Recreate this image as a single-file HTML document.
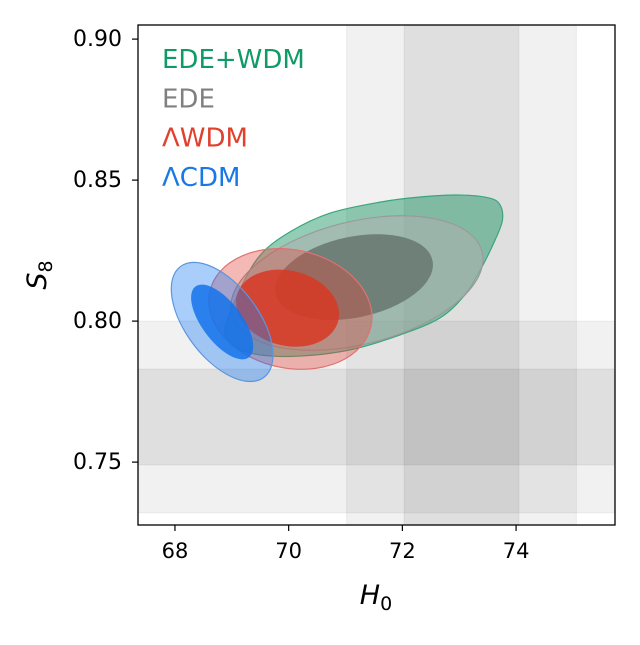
<!DOCTYPE html>
<html><head><meta charset="utf-8"><style>
body{margin:0;background:#fff}
svg text{font-family:"DejaVu Sans","Liberation Sans",sans-serif}
</style></head><body>
<svg id="chart" width="640" height="640" viewBox="0 0 640 640" xmlns="http://www.w3.org/2000/svg">
<g id="bands"></g><g id="contours"></g><g id="axes"></g><g id="legend"></g>
</svg>
<script>
const xTicks=[68,70,72,74];
const yTicks=[0.75,0.80,0.85,0.90];
const yTickLabels=["0.75","0.80","0.85","0.90"];
const h0Band=[73.04,1.01];
const s8Band=[0.766,0.017];
const legendLabels=["EDE+WDM","EDE","\u039bWDM","\u039bCDM"];
// ellipses: [centerH0, centerS8, semiMajor(H0 units), semiMinor(H0 units), angleDeg]
const lcdmOuter=[68.83,0.7997,1.22,0.64,53];
const lcdmInner=[68.83,0.7997,0.78,0.35,53];
const lwdmOuter=[70.03,0.8043,1.45,1.04,12];
const lwdmInner=[69.98,0.8046,0.92,0.66,14];
const edeOuter=[71.2,0.8135,2.27,1.08,-14];
const edeInner=[71.15,0.8156,1.40,0.70,-12];
const edewdmH0=[68.88,69.14,69.50,70.02,70.73,71.61,72.31,73.02,73.54,73.72,73.76,73.63,73.37,73.10,72.66,71.96,71.08,70.20,69.50,69.06];
const edewdmS8=[0.7968,0.8110,0.8234,0.8316,0.8383,0.8422,0.8440,0.8447,0.8436,0.8411,0.8358,0.8287,0.8181,0.8093,0.8011,0.7951,0.7898,0.7876,0.7880,0.7908];

const L=138,R=615,T=25,B=525,xmin=67.35,xmax=75.74,ymin=0.7277,ymax=0.905;
const X=v=>L+(v-xmin)/(xmax-xmin)*(R-L);
const Y=v=>B-(v-ymin)/(ymax-ymin)*(B-T);
const pxPerH=(R-L)/(xmax-xmin);
const NS="http://www.w3.org/2000/svg";
function mk(tag,attrs,parent){const e=document.createElementNS(NS,tag);for(const k in attrs)e.setAttribute(k,attrs[k]);parent.appendChild(e);return e;}
const bands=document.getElementById('bands'),cont=document.getElementById('contours'),axes=document.getElementById('axes'),leg=document.getElementById('legend');

[[2,'rgba(0,0,0,0.055)'],[1,'rgba(0,0,0,0.075)']].forEach(([k,c])=>{
  const x1=X(h0Band[0]-k*h0Band[1]),x2=X(h0Band[0]+k*h0Band[1]);
  const r=mk('rect',{x:x1,y:T,width:x2-x1,height:B-T,fill:c,stroke:'rgba(0,0,0,0.06)'},bands);
  
  
  const y1=Y(s8Band[0]+k*s8Band[1]),y2=Y(s8Band[0]-k*s8Band[1]);
  const r2=mk('rect',{x:L,y:y1,width:R-L,height:y2-y1,fill:c,stroke:'rgba(0,0,0,0.06)'},bands);
  
  
});

function ell(p,fill,stroke,name){
  const e=mk('ellipse',{cx:X(p[0]),cy:Y(p[1]),rx:p[2]*pxPerH,ry:p[3]*pxPerH,fill:fill,stroke:stroke,'stroke-width':1.2,transform:`rotate(${p[4]} ${X(p[0])} ${Y(p[1])})`},cont);
  
  
}
function smooth(xs,ys){
  const n=xs.length,P=xs.map((v,i)=>[X(v),Y(ys[i])]);let d=`M${P[0][0]},${P[0][1]}`;
  for(let i=0;i<n;i++){const p0=P[(i-1+n)%n],p1=P[i],p2=P[(i+1)%n],p3=P[(i+2)%n];
    d+=`C${p1[0]+(p2[0]-p0[0])/6},${p1[1]+(p2[1]-p0[1])/6} ${p2[0]-(p3[0]-p1[0])/6},${p2[1]-(p3[1]-p1[1])/6} ${p2[0]},${p2[1]}`;}
  return d+'Z';
}
const g=mk('path',{d:smooth(edewdmH0,edewdmS8),fill:'rgba(0,135,80,0.42)',stroke:'#3aa57c','stroke-width':1.2},cont);


ell(edeOuter,'rgba(175,175,175,0.55)','#9a9a9a','ede-outer-contour');
ell(edeInner,'#6e8078','#6e8078','ede-inner-contour');
ell(lwdmOuter,'rgba(225,70,60,0.38)','#e07070','lwdm-outer-contour');
ell(lwdmInner,'rgba(215,55,35,0.85)','none','lwdm-inner-contour');
ell(lcdmOuter,'rgba(30,125,245,0.38)','#5a95e0','lcdm-outer-contour');
ell(lcdmInner,'rgba(20,115,235,0.85)','none','lcdm-inner-contour');

const frame=mk('rect',{x:L,y:T,width:R-L,height:B-T,fill:'none',stroke:'#000','stroke-width':1.3},axes);


xTicks.forEach(v=>{
  mk('line',{x1:X(v),x2:X(v),y1:B,y2:B+6,stroke:'#000','stroke-width':1.2},axes);
  const t=mk('text',{x:X(v),y:B+33,'font-size':21,'text-anchor':'middle',fill:'#000'},axes);t.textContent=v;
  
  
});
yTicks.forEach((v,i)=>{
  mk('line',{x1:L-6,x2:L,y1:Y(v),y2:Y(v),stroke:'#000','stroke-width':1.2},axes);
  const t=mk('text',{x:L-16,y:Y(v)+7,'font-size':22,'text-anchor':'end',fill:'#000'},axes);t.textContent=yTickLabels[i];
  
  
});
const xt=mk('text',{x:376,y:604,'font-size':27,'text-anchor':'middle','font-style':'italic'},axes);
xt.innerHTML='H<tspan font-style="normal" font-size="19" dy="6">0</tspan>';


const yt=mk('text',{x:0,y:0,'font-size':27,'text-anchor':'middle','font-style':'italic',transform:'translate(46,275) rotate(-90)'},axes);
yt.innerHTML='S<tspan font-style="normal" font-size="19" dy="6">8</tspan>';



const cols=['#0f9a68','#808080','#e0402c','#1a78e6'];
legendLabels.forEach((s,i)=>{
  const t=mk('text',{x:162,y:68+i*39.3,'font-size':26,fill:cols[i]},leg);t.textContent=s;
  
  
});
</script>
</body></html>
